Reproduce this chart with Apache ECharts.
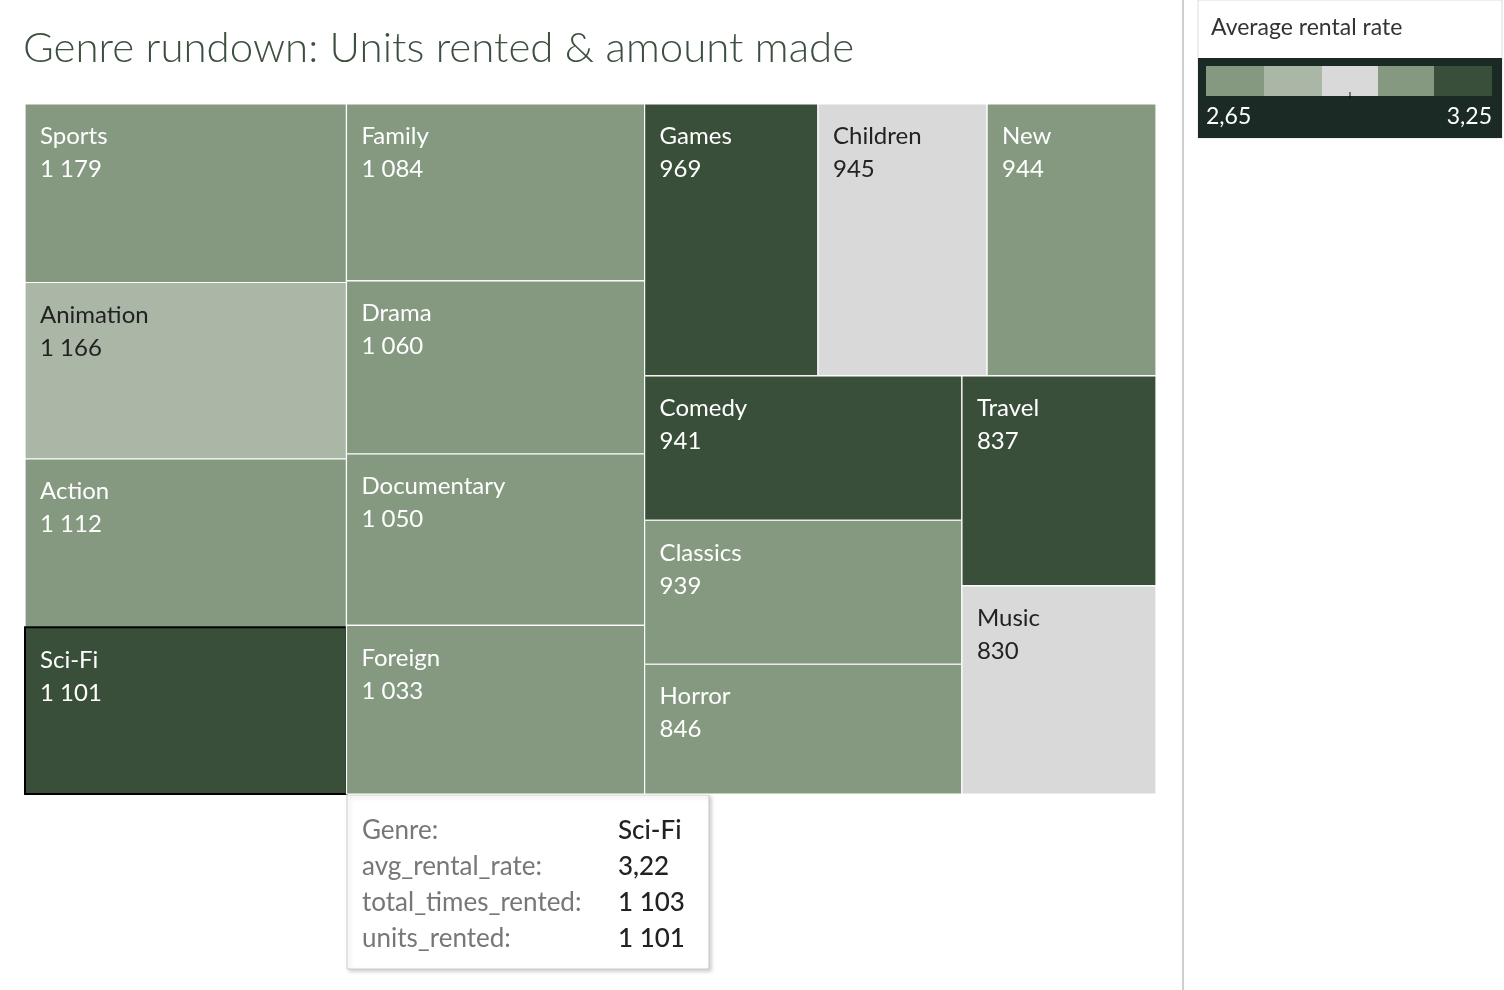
<!DOCTYPE html>
<html>
<head>
<meta charset="utf-8">
<script src="https://cdn.jsdelivr.net/npm/echarts@6/dist/echarts.min.js"></script>
<style>html,body{margin:0;padding:0;background:#fff}#main{width:1504px;height:990px}</style>
</head>
<body>
<div id="main"></div>
<script>
// genres grouped the way the reference lays them out
var colA = ['Sports', 'Animation', 'Action', 'Sci-Fi'];
var colAUnits = [1179, 1166, 1112, 1101];
var colARate = [3.10, 2.80, 3.05, 3.22];
var colB = ['Family', 'Drama', 'Documentary', 'Foreign'];
var colBUnits = [1084, 1060, 1050, 1033];
var colBRate = [3.02, 3.04, 3.06, 3.10];
var topRow = ['Games', 'Children', 'New'];
var topRowUnits = [969, 945, 944];
var topRowRate = [3.20, 2.95, 3.10];
var midCol = ['Comedy', 'Classics', 'Horror'];
var midColUnits = [941, 939, 846];
var midColRate = [3.16, 3.04, 3.03];
var sideCol = ['Travel', 'Music'];
var sideColUnits = [837, 830];
var sideColRate = [3.24, 2.95];

// colour bins for average rental rate 2,65 .. 3,25
var binColors = ['#849980', '#aab6a6', '#d9d9d9', '#849980', '#3a4f3a'];
var rateMin = 2.65, rateMax = 3.25;

function fmt(n) {
    var s = String(n);
    return s.length > 3 ? s.slice(0, s.length - 3) + ' ' + s.slice(-3) : s;
}
function binColor(r) {
    var i = Math.floor((r - rateMin) / (rateMax - rateMin) * 5);
    if (i < 0) i = 0;
    if (i > 4) i = 4;
    return binColors[i];
}
function group(names, units, rates, dir) {
    var kids = [];
    for (var i = 0; i < names.length; i++) kids.push({ name: names[i], value: units[i], rate: rates[i] });
    return { dir: dir, children: kids };
}
function total(n) {
    if (!n.children) return n.value;
    var s = 0;
    n.children.forEach(function (c) { s += total(c); });
    return s;
}
// slice-and-dice tree: 'h' splits left-to-right, 'v' splits top-to-bottom
var tree = { dir: 'h', children: [
    group(colA, colAUnits, colARate, 'v'),
    group(colB, colBUnits, colBRate, 'v'),
    { dir: 'v', children: [
        group(topRow, topRowUnits, topRowRate, 'h'),
        { dir: 'h', children: [
            group(midCol, midColUnits, midColRate, 'v'),
            group(sideCol, sideColUnits, sideColRate, 'v')
        ] }
    ] }
] };

var cells = [];
function layout(n, x0, y0, x1, y1) {
    if (!n.children) {
        cells.push([x0, y0, x1, y1, n.value, n.name, n.rate]);
        return;
    }
    var t = total(n), pos = n.dir == 'h' ? x0 : y0;
    n.children.forEach(function (c) {
        var f = total(c) / t;
        if (n.dir == 'h') {
            var w = (x1 - x0) * f;
            layout(c, pos, y0, pos + w, y1); pos += w;
        } else {
            var h = (y1 - y0) * f;
            layout(c, x0, pos, x1, pos + h); pos += h;
        }
    });
}
layout(tree, 0, 0, 1, 1);

var myChart = echarts.init(document.getElementById('main'));
var option = {
    animation: false,
    title: {
        text: 'Genre rundown: Units rented & amount made',
        left: 18, top: 22,
        textStyle: { fontFamily: 'Lato', fontWeight: 300, fontSize: 42, color: '#3d5040' }
    },
    grid: { left: 25, top: 104, width: 1131, height: 690 },
    xAxis: { type: 'value', min: 0, max: 1, show: false },
    yAxis: { type: 'value', min: 0, max: 1, inverse: true, show: false },
    series: [{
        type: 'custom',
        data: cells,
        renderItem: function (params, api) {
            var p0 = api.coord([api.value(0), api.value(1)]);
            var p1 = api.coord([api.value(2), api.value(3)]);
            var c = cells[params.dataIndex];
            var color = binColor(c[6]);
            var dark = (color == '#d9d9d9' || color == '#aab6a6');
            var sel = c[5] == 'Sci-Fi';
            return {
                type: 'group',
                children: [{
                    type: 'rect',
                    shape: { x: p0[0], y: p0[1], width: p1[0] - p0[0], height: p1[1] - p0[1] },
                    style: { fill: color, stroke: sel ? '#000' : '#fff', lineWidth: sel ? 2 : 1.2 }
                }, {
                    type: 'text',
                    x: p0[0] + 15, y: p0[1] + 16,
                    style: {
                        text: c[5] + '\n' + fmt(c[4]),
                        fontFamily: 'Lato', fontSize: 24, lineHeight: 33,
                        fill: dark ? '#222' : '#fff'
                    }
                }]
            };
        }
    }],
    graphic: [
        { type: 'line', shape: { x1: 1183, y1: 0, x2: 1183, y2: 990 }, style: { stroke: '#cfcfcf', lineWidth: 2 } },
        { type: 'rect', shape: { x: 1198, y: 0, width: 304, height: 138 }, style: { fill: '#fff', stroke: '#ddd' } },
        { type: 'text', x: 1211, y: 16, style: { text: 'Average rental rate', fontFamily: 'Lato', fontSize: 23, fill: '#333' } },
        { type: 'rect', shape: { x: 1198, y: 58, width: 304, height: 80 }, style: { fill: '#1b2a24' } },
        { type: 'rect', shape: { x: 1206, y: 66, width: 58, height: 30 }, style: { fill: binColors[0] } },
        { type: 'rect', shape: { x: 1264, y: 66, width: 58, height: 30 }, style: { fill: binColors[1] } },
        { type: 'rect', shape: { x: 1322, y: 66, width: 56, height: 30 }, style: { fill: binColors[2] } },
        { type: 'rect', shape: { x: 1378, y: 66, width: 56, height: 30 }, style: { fill: binColors[3] } },
        { type: 'rect', shape: { x: 1434, y: 66, width: 58, height: 30 }, style: { fill: binColors[4] } },
        { type: 'line', shape: { x1: 1350, y1: 92, x2: 1350, y2: 99 }, style: { stroke: '#111', lineWidth: 1 } },
        { type: 'text', x: 1206, y: 105, style: { text: '2,65', fontFamily: 'Lato', fontSize: 23, fill: '#fff' } },
        { type: 'text', x: 1492, y: 105, style: { text: '3,25', fontFamily: 'Lato', fontSize: 23, fill: '#fff', align: 'right' } },
        // fixed tooltip for the highlighted Sci-Fi tile
        { type: 'rect', shape: { x: 347, y: 795, width: 362, height: 174 }, style: { fill: '#fff', stroke: '#ccc', shadowBlur: 4, shadowColor: 'rgba(0,0,0,0.2)', shadowOffsetX: 2, shadowOffsetY: 2 } },
        { type: 'text', x: 362, y: 813, style: { text: 'Genre:\navg_rental_rate:\ntotal_times_rented:\nunits_rented:', fontFamily: 'Lato', fontSize: 26, lineHeight: 36, fill: '#777' } },
        { type: 'text', x: 618, y: 813, style: { text: 'Sci-Fi\n3,22\n1 103\n1 101', fontFamily: 'Lato', fontSize: 26, fontWeight: 500, lineHeight: 36, fill: '#222' } }
    ]
};
myChart.setOption(option);
</script>
</body>
</html>
